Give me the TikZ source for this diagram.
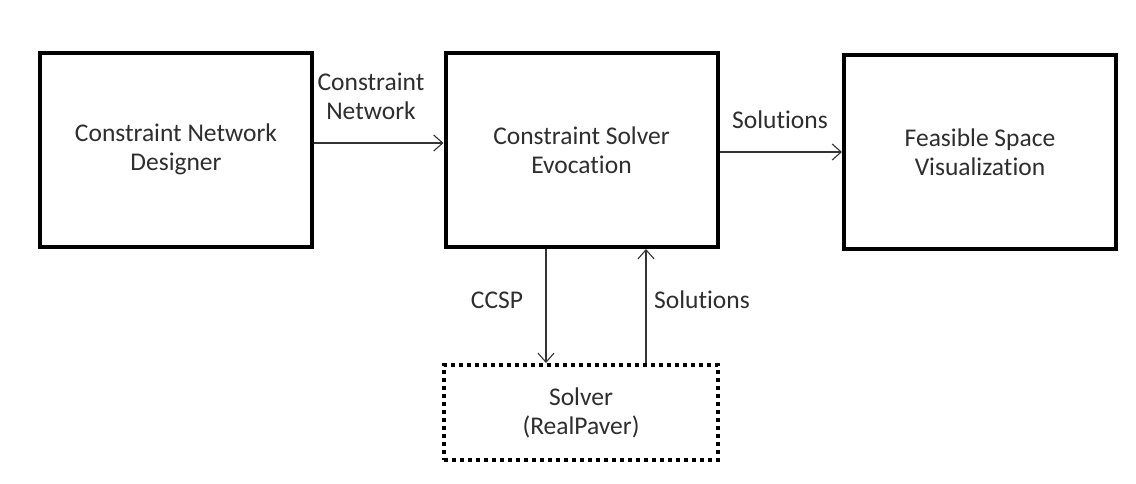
\documentclass[tikz,border=0pt]{standalone}
\usepackage{fontspec}
\setmainfont{Carlito}[Ligatures=NoCommon]
\usetikzlibrary{arrows.meta,calc}
\begin{document}
\begin{tikzpicture}[x=1pt,y=-1pt,
  every node/.style={font=\fontsize{25.5}{29}\selectfont, text=black!82, align=center, inner sep=0pt},
  block/.style={draw=black, line width=4pt, rectangle, minimum width=272pt, minimum height=194pt},
  dotbox/.style={draw=black, line width=4pt, dash pattern=on 4pt off 4pt, rectangle, minimum width=274pt, minimum height=95pt},
  conn/.style={draw=black!80, line width=1.1pt, -{Straight Barb[length=9pt,width=16pt,line width=1.1pt]}},
  lbl/.style={}]
\useasboundingbox (0,0) rectangle (1136,483);
\fill[white] (0,0) rectangle (1136,483);

% main blocks
\node[block] (designer) at (176,149.5) {Constraint Network\\Designer};
\node[block] (evoc) at (581.5,150) {Constraint Solver\\Evocation};
\node[block] (visual) at (980,152) {Feasible Space\\Visualization};
\node[dotbox] (solver) at (581,412.5) {Solver\\(RealPaver)};

% connectors
\draw[conn] ([yshift=6.5pt]designer.east) -- ([yshift=6.5pt]designer.east -| evoc.west);
\draw[conn] (evoc.east |- visual.west) -- (visual.west);
\draw[conn] ([xshift=-35.5pt]evoc.south) -- ([xshift=-35.5pt]evoc.south |- solver.north);
\draw[conn] ([xshift=64.5pt]evoc.south |- solver.north) -- ([xshift=64.5pt]evoc.south);

% connector labels
\node[lbl] (lnet) at (371,96) {Constraint\\Network};
\node[lbl] (lsol) at (780,120) {Solutions};
\node[lbl] (lccsp) at (497,300) {CCSP};
\node[lbl] (lsol2) at (702,300) {Solutions};
\end{tikzpicture}
\end{document}
